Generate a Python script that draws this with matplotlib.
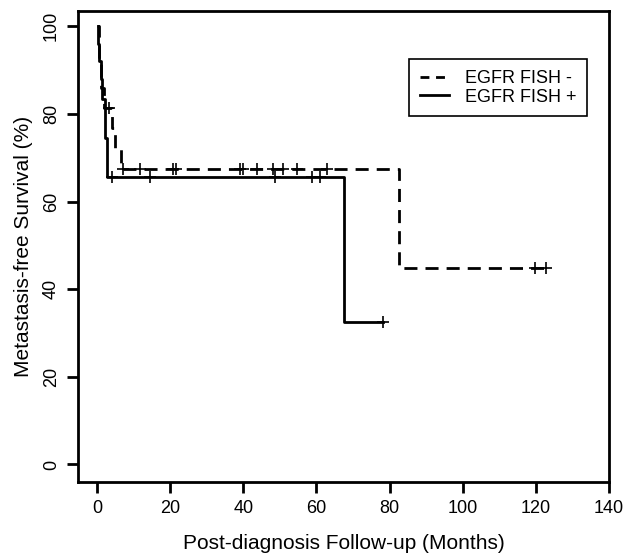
import matplotlib
matplotlib.use("Agg")
import matplotlib.pyplot as plt
from matplotlib.lines import Line2D

plt.rcParams['font.family'] = ['Liberation Sans', 'DejaVu Sans']

# EGFR FISH - (dashed): step times and survival (%)
neg_times = [0, 0.5, 1.0, 1.8, 4.2, 5.0, 6.6, 82.6, 122.8]
neg_surv = [100, 92, 86, 81.3, 76.8, 72.0, 67.5, 44.8, 44.8]
neg_cens_t = [3.2, 7.2, 11.8, 20.9, 21.6, 39.1, 39.8, 43.7, 48.2, 50.8, 54.6, 62.8, 119.8, 122.8]
neg_cens_s = [81.3, 67.5, 67.5, 67.5, 67.5, 67.5, 67.5, 67.5, 67.5, 67.5, 67.5, 67.5, 44.8, 44.8]

# EGFR FISH + (solid)
pos_times = [0.2, 0.4, 0.6, 1.0, 1.4, 2.1, 2.7, 67.5, 78.2]
pos_surv = [100, 96, 92, 88, 83.5, 74.5, 65.6, 32.5, 32.5]
pos_cens_t = [4.0, 14.5, 48.7, 58.7, 61.0, 78.2]
pos_cens_s = [65.6, 65.6, 65.6, 65.6, 65.6, 32.5]

x_ticks = [0, 20, 40, 60, 80, 100, 120, 140]
y_ticks = [0, 20, 40, 60, 80, 100]

fig = plt.figure(figsize=(6.27, 5.54), dpi=100)
ax = fig.add_axes([78 / 627, 1 - 482 / 554, (609 - 78) / 627, (482 - 11) / 554])

lw = 2.0
ax.step(neg_times, neg_surv, where='post', color='black', lw=lw, dashes=(4.7, 2.9))
ax.step(pos_times, pos_surv, where='post', color='black', lw=lw)
ax.plot(neg_cens_t, neg_cens_s, ls='none', marker='+', ms=9, mew=1.2, color='black')
ax.plot(pos_cens_t, pos_cens_s, ls='none', marker='+', ms=9, mew=1.2, color='black')

ax.set_xlim(-5.2, 140)
ax.set_ylim(-4, 103.5)
ax.set_xticks(x_ticks)
ax.set_yticks(y_ticks)
ax.tick_params(direction='out', length=8, width=2, labelsize=13, pad=5)
for lab in ax.get_yticklabels():
    lab.set_rotation(90)
    lab.set_va('center')
for s in ax.spines.values():
    s.set_linewidth(2)

ax.set_xlabel("Post-diagnosis Follow-up (Months)", fontsize=15, labelpad=12)
ax.set_ylabel("Metastasis-free Survival (%)", fontsize=15, labelpad=7)

handles = [Line2D([], [], color='black', lw=lw, dashes=(3.2, 2.4)),
           Line2D([], [], color='black', lw=lw)]
leg = fig.legend(handles, ["EGFR FISH -", "EGFR FISH +"], loc='upper left',
                 bbox_to_anchor=(409 / 627, 1 - 59 / 554), fontsize=13,
                 fancybox=False, framealpha=1, edgecolor='black',
                 handlelength=1.6, borderpad=0.6, labelspacing=0.1,
                 borderaxespad=0, handletextpad=0.9)
leg.get_frame().set_linewidth(1.2)

fig.savefig("out.png", dpi=100)
